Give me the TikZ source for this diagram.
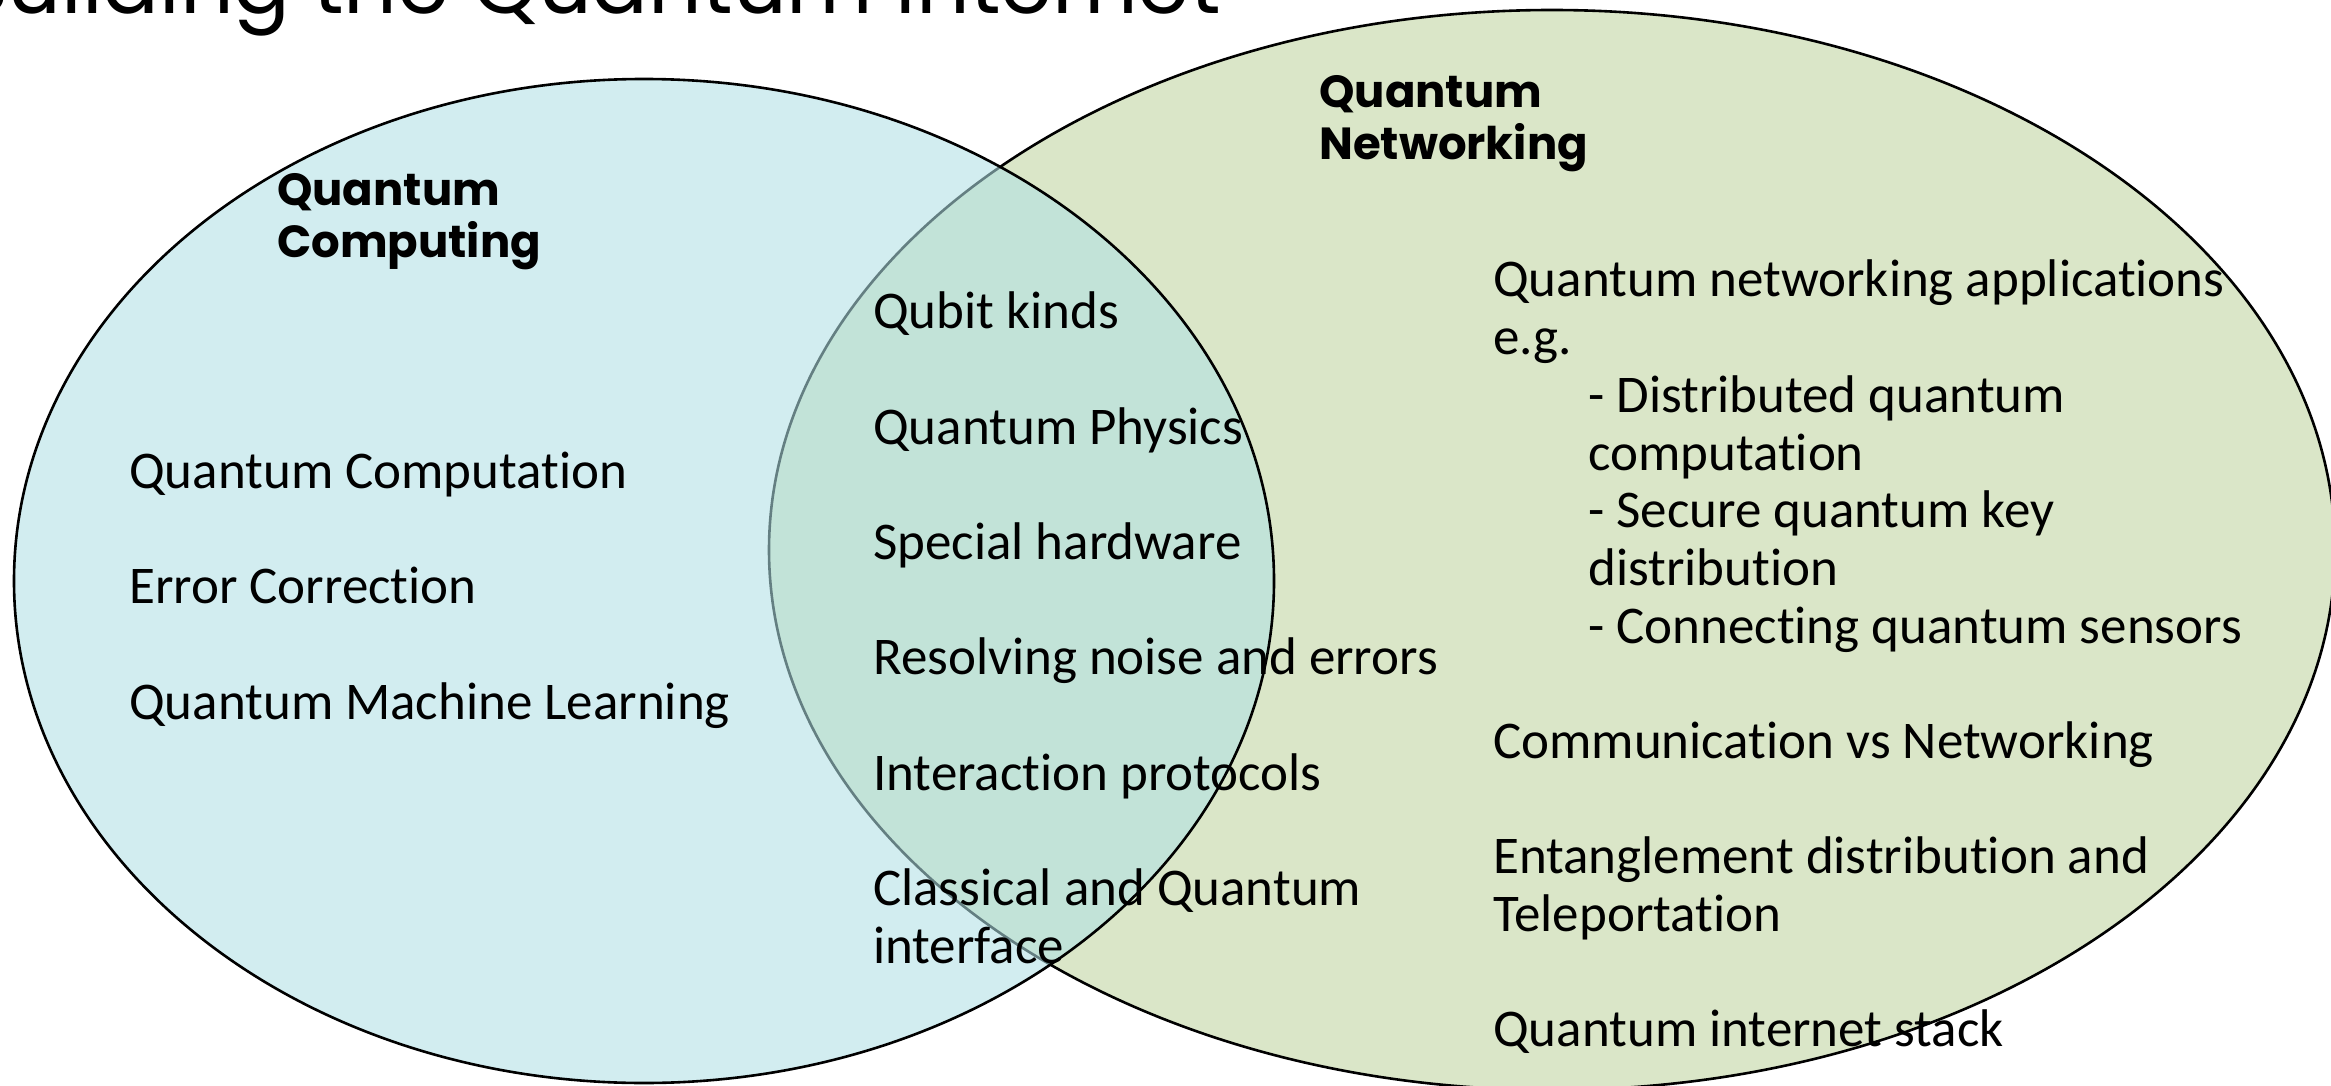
\documentclass[tikz,border=0pt]{standalone}
\usepackage{fontspec}
\setmainfont{Carlito}[Ligatures=NoCommon,RawFeature={-liga;-clig;-dlig}]
\newfontfamily\headfont{Poppins}
\usetikzlibrary{shapes.geometric}
\definecolor{qnfill}{RGB}{218,230,200}
\definecolor{qcfill}{RGB}{176,225,229}
\tikzset{
  venn/.style={ellipse, draw=black, line width=2.6pt, inner sep=0pt},
  body/.style={anchor=base west, inner sep=0pt, font=\fontsize{53}{58}\selectfont},
  headtxt/.style={anchor=base west, inner sep=0pt, font=\headfont\bfseries\fontsize{45}{52}\selectfont},
  titletxt/.style={anchor=base west, inner sep=0pt, font=\headfont\fontsize{84}{90}\selectfont}
}
\begin{document}
\begin{tikzpicture}[x=1pt,y=-1pt]
\useasboundingbox (0,0) rectangle (2331,1086);
\fill[white] (0,0) rectangle (2331,1086);
% title (cut off at top)
\node[titletxt] (title) at (-44,14) {Building the Quantum Internet};
% ellipses
\node[venn, fill=qnfill, minimum width=1566pt, minimum height=1080pt] (qn) at (1552,550) {};
\node[venn, fill=qcfill, fill opacity=0.57, draw opacity=1, minimum width=1260pt, minimum height=1004pt] (qc) at (644,581) {};
% headings
\node[headtxt] (qch1) at (277,205) {Quantum};
\node[headtxt] (qch2) at (277,257) {Computing};
\node[headtxt] (qnh1) at (1319,108) {Quantum};
\node[headtxt] (qnh2) at (1319,160) {Networking};
% left items
\node[body] (l1) at (129,488) {Quantum Computation};
\node[body] (l2) at (129,603) {Error Correction};
\node[body] (l3) at (129,719) {Quantum Machine Learning};
% middle items
\node[body] (m1) at (873,328) {Qubit kinds};
\node[body] (m2) at (873,444) {Quantum Physics};
\node[body] (m3) at (873,559) {Special hardware};
\node[body] (m4) at (873,674) {Resolving noise and errors};
\node[body] (m5) at (873,790) {Interaction protocols};
\node[body] (m6a) at (873,905) {Classical and Quantum};
\node[body] (m6b) at (873,963) {interface};
% right items
\node[body] (r1a) at (1493,296) {Quantum networking applications};
\node[body] (r1b) at (1493,354) {e.g.};
\node[body] (r2a) at (1588,412) {- Distributed quantum};
\node[body] (r2b) at (1588,470) {computation};
\node[body] (r3a) at (1588,527) {- Secure quantum key};
\node[body] (r3b) at (1588,585) {distribution};
\node[body] (r4) at (1588,643) {- Connecting quantum sensors};
\node[body] (r5) at (1493,758) {Communication vs Networking};
\node[body] (r6a) at (1493,873) {Entanglement distribution and};
\node[body] (r6b) at (1493,931) {Teleportation};
\node[body] (r7) at (1493,1046) {Quantum internet stack};
\end{tikzpicture}
\end{document}
